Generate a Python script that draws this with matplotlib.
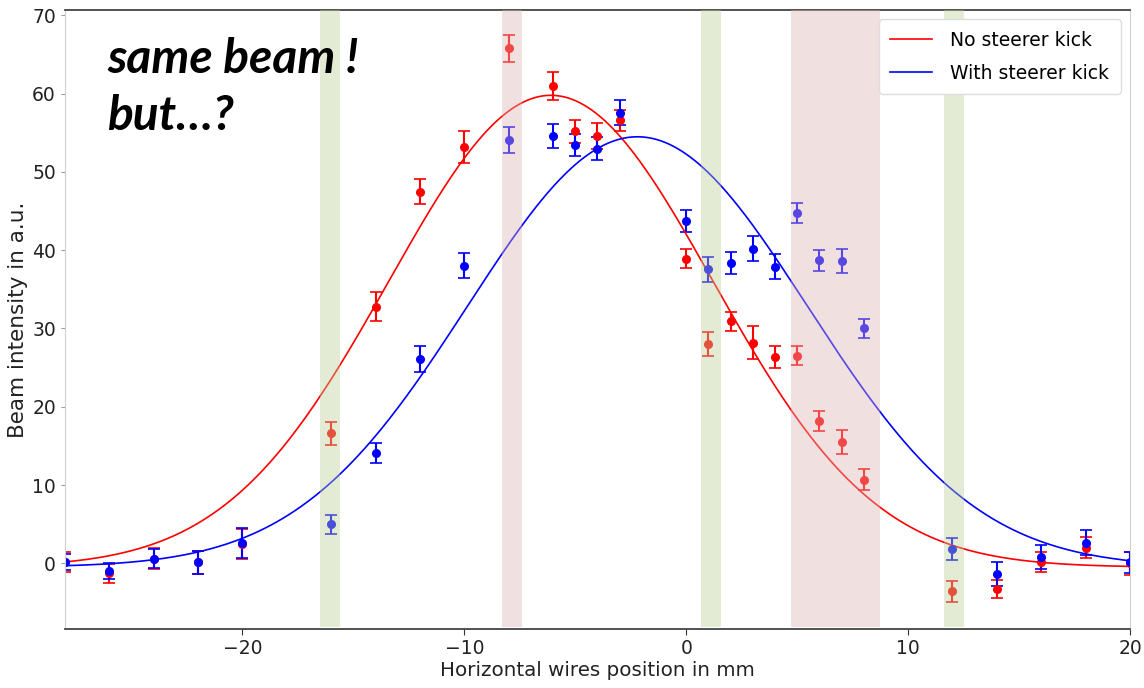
import numpy as np
import matplotlib
matplotlib.use("Agg")
import matplotlib.pyplot as plt

# ---- data ----
positions = [-28, -26, -24, -22, -20, -16, -14, -12, -10, -8, -6, -5, -4, -3,
             0, 1, 2, 3, 4, 5, 6, 7, 8, 12, 14, 16, 18, 20]
no_kick = [0.2, -1.3, 0.6, 0.1, 2.5, 16.6, 32.8, 47.5, 53.2, 65.8, 61.0, 55.2, 54.6, 56.6,
           38.9, 28.0, 30.9, 28.2, 26.3, 26.5, 18.2, 15.5, 10.7, -3.6, -3.3, 0.2, 2.0, 0.0]
no_kick_err = [1.3, 1.2, 1.3, 1.5, 1.9, 1.5, 1.9, 1.6, 2.0, 1.7, 1.8, 1.5, 1.6, 1.3,
               1.2, 1.5, 1.2, 2.1, 1.4, 1.2, 1.3, 1.5, 1.4, 1.3, 1.2, 1.3, 1.3, 1.5]
with_kick = [0.2, -1.0, 0.6, 0.1, 2.6, 5.0, 14.1, 26.1, 38.0, 54.1, 54.6, 53.4, 53.0, 57.6,
             43.7, 37.6, 38.4, 40.2, 37.9, 44.8, 38.7, 38.6, 30.0, 1.8, -1.4, 0.8, 2.6, 0.1]
with_kick_err = [1.0, 1.0, 1.2, 1.5, 1.9, 1.2, 1.3, 1.6, 1.6, 1.7, 1.5, 1.4, 1.5, 1.6,
                 1.4, 1.6, 1.4, 1.6, 1.6, 1.3, 1.3, 1.5, 1.2, 1.4, 1.5, 1.5, 1.6, 1.4]

# Gaussian fit parameters (amplitude, centre, sigma, offset)
fit_no_kick = (60.3, -6.1, 7.3, -0.5)
fit_with_kick = (55.0, -2.2, 7.66, -0.5)

# highlighted wire regions
green_spans = [(-16.5, -15.6), (0.65, 1.55), (11.6, 12.5)]
pink_spans = [(-8.3, -7.4), (4.7, 8.75)]

labels = ["No steerer kick", "With steerer kick"]
x_ticks = [-20, -10, 0, 10, 20]
y_ticks = [0, 10, 20, 30, 40, 50, 60, 70]


def gauss(x, a, mu, s, c):
    return a * np.exp(-(x - mu) ** 2 / (2 * s ** 2)) + c


fig = plt.figure(figsize=(11.44, 6.88), dpi=100)
ax = fig.add_axes([65 / 1144, 1 - 629 / 688, (1130 - 65) / 1144, (629 - 10) / 688])

ebkw = dict(fmt='o', markersize=5.5, capsize=4, elinewidth=1.5, capthick=1.2, linestyle='none')
ax.errorbar(positions, no_kick, yerr=no_kick_err, color='red', **ebkw)
ax.errorbar(positions, with_kick, yerr=with_kick_err, color='blue', **ebkw)

xs = np.linspace(-28, 20, 500)
ax.plot(xs, gauss(xs, *fit_no_kick), color='red', lw=1.2, label=labels[0])
ax.plot(xs, gauss(xs, *fit_with_kick), color='blue', lw=1.2, label=labels[1])

for a, b in green_spans:
    ax.axvspan(a, b, ymin=0.004, ymax=1, color=(0.725, 0.81, 0.59), alpha=0.4, lw=0, zorder=5)
for a, b in pink_spans:
    ax.axvspan(a, b, ymin=0.004, ymax=1, color=(0.87, 0.70, 0.70), alpha=0.4, lw=0, zorder=5)

ax.set_xlim(-28, 20)
ax.set_ylim(-8.4, 70.7)
ax.set_xticks(x_ticks)
ax.set_yticks(y_ticks)
ax.tick_params(axis='x', labelsize=13.5, colors='#222222', color='#333333', length=4)
ax.tick_params(axis='y', labelsize=13.5, colors='#222222', color='#999999', length=3)
ax.set_xlabel("Horizontal wires position in mm", fontsize=14.3, color='#222222', labelpad=2)
ax.set_ylabel("Beam intensity in a.u.", fontsize=15.5, color='#222222', labelpad=3)

for side in ['left', 'right']:
    ax.spines[side].set_color('#d0d0d0')
for side in ['top', 'bottom']:
    ax.spines[side].set_color('#444444')
    ax.spines[side].set_linewidth(1.3)

leg = ax.legend(loc='upper right', fontsize=13.5, frameon=True, framealpha=1,
                borderpad=0.6, handlelength=2.2, handletextpad=1.0, labelspacing=0.75,
                borderaxespad=0.5)
leg.set_zorder(10)
leg.get_frame().set_edgecolor('#dddddd')

fig.text(107 / 1144, 1 - 73 / 688, "same beam !", fontsize=34.5, fontweight='bold',
         style='italic', family='Lato', va='baseline', ha='left', color='black')
fig.text(107 / 1144, 1 - 130 / 688, "but…?", fontsize=34.5, fontweight='bold',
         style='italic', family='Lato', va='baseline', ha='left', color='black')

fig.savefig("out.png", dpi=100)
